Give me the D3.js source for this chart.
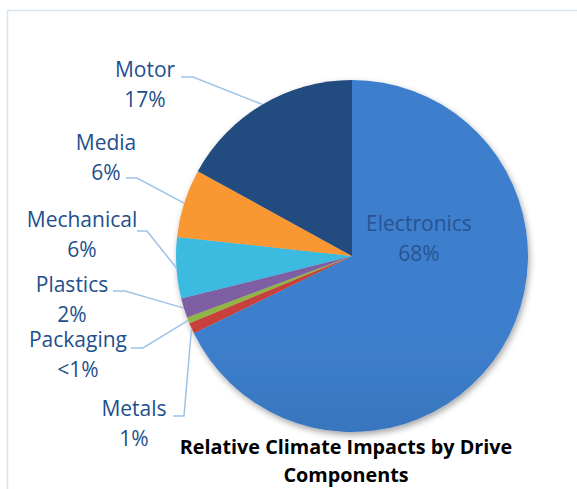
<!DOCTYPE html>
<html>
<head>
<meta charset="utf-8">
<script src="https://cdn.jsdelivr.net/npm/d3@7"></script>
<style>
  html, body { margin: 0; padding: 0; background: #fff; }
  text { font-family: "Open Sans", sans-serif; }
</style>
</head>
<body>
<div id="chart"></div>
<script>
// data
var categories = ['Electronics', 'Metals', 'Packaging', 'Plastics', 'Mechanical', 'Media', 'Motor']
var values = [67.8, 1, 0.55, 1.8, 5.6, 6.3, 17]
var pctLabels = ['68%', '1%', '<1%', '2%', '6%', '6%', '17%']
var titleLines = ['Relative Climate Impacts by Drive', 'Components']

// slice colours, top and bottom of the gradient
var colors = [
    ['#3d7fcc', '#2d5d9b'],
    ['#c8403a', '#a52f29'],
    ['#8fb544', '#76993a'],
    ['#7e5ea3', '#634886'],
    ['#3cbadf', '#2d98bd'],
    ['#f99833', '#d8711d'],
    ['#224c80', '#16345b']
]

// where the outside labels sit (centre x, first baseline, leader start y, leader start x, elbow x)
var labelLayout = [
    null,
    { x: 134, y: 416, ly: 416, lx: 173, ex: 184 },
    { x: 78, y: 347, ly: 348, lx: 131, ex: 143 },
    { x: 72, y: 292, ly: 291, lx: 113, ex: 125 },
    { x: 82, y: 227, ly: 231, lx: 137, ex: 147 },
    { x: 106, y: 150, ly: 178, lx: 126, ex: 137 },
    { x: 145, y: 77, ly: 77, lx: 181, ex: 193 }
]

var width = 577, height = 489
var cx = 352, cy = 256, r = 176

var svg = d3.select('#chart').append('svg')
    .attr('width', width)
    .attr('height', height)

// frame (only top and left edges show in the crop)
svg.append('path')
    .attr('d', 'M7.5,' + height + 'V10.5H' + width)
    .attr('fill', 'none')
    .attr('stroke', '#d5e3f3')
    .attr('stroke-width', 1.5)

var defs = svg.append('defs')

var shadow = defs.append('filter').attr('id', 'shadow')
    .attr('x', '-20%').attr('y', '-20%').attr('width', '140%').attr('height', '140%')
shadow.append('feDropShadow')
    .attr('dx', 1.5).attr('dy', 3).attr('stdDeviation', 3)
    .attr('flood-color', '#000').attr('flood-opacity', 0.35)

colors.forEach(function(c, i) {
    var g = defs.append('linearGradient')
        .attr('id', 'grad' + i)
        .attr('gradientUnits', 'userSpaceOnUse')
        .attr('x1', 0).attr('x2', 0)
        .attr('y1', cy - r).attr('y2', cy + r)
    g.append('stop').attr('offset', '0%').attr('stop-color', c[0])
    g.append('stop').attr('offset', '100%').attr('stop-color', c[1])
})

var pie = d3.pie().sort(null).value(function(d) { return d })
var arcs = pie(values)
var arc = d3.arc().innerRadius(0).outerRadius(r)

var g = svg.append('g')
    .attr('transform', 'translate(' + cx + ',' + cy + ')')

g.append('g')
    .attr('filter', 'url(#shadow)')
    .selectAll('path')
    .data(arcs)
    .enter().append('path')
    .attr('d', arc)
    .attr('fill', function(d, i) { return 'url(#grad' + i + ')' })

// leader lines end on the rim at each slice's mid angle
var leaders = svg.append('g')
arcs.forEach(function(d, i) {
    var lay = labelLayout[i]
    if (!lay) return
    var a = (d.startAngle + d.endAngle) / 2
    var px = cx + r * Math.sin(a)
    var py = cy - r * Math.cos(a)
    leaders.append('path')
        .attr('d', 'M' + lay.lx + ',' + lay.ly + 'H' + lay.ex + 'L' + px + ',' + py)
        .attr('fill', 'none')
        .attr('stroke', '#9ec3e8')
        .attr('stroke-width', 1.5)
})

var labels = svg.append('g')
    .attr('text-anchor', 'middle')
    .style('font-size', '21px')
arcs.forEach(function(d, i) {
    var lay = labelLayout[i]
    var x, y, fill
    if (lay) {
        x = lay.x; y = lay.y; fill = '#22508c'
    } else {
        // inside label for the big slice
        x = 419; y = 231; fill = '#285393'
    }
    var t = labels.append('text').attr('fill', fill)
    t.append('tspan').attr('x', x).attr('y', y).text(categories[i])
    t.append('tspan').attr('x', x).attr('y', y + 29.5).text(pctLabels[i])
})

var title = svg.append('text')
    .attr('text-anchor', 'middle')
    .attr('fill', '#000')
    .style('font-size', '19.8px')
    .style('font-weight', 'bold')
title.selectAll('tspan')
    .data(titleLines)
    .enter().append('tspan')
    .attr('x', 346)
    .attr('y', function(d, i) { return 454 + i * 27.5 })
    .text(function(d) { return d })
</script>
</body>
</html>
